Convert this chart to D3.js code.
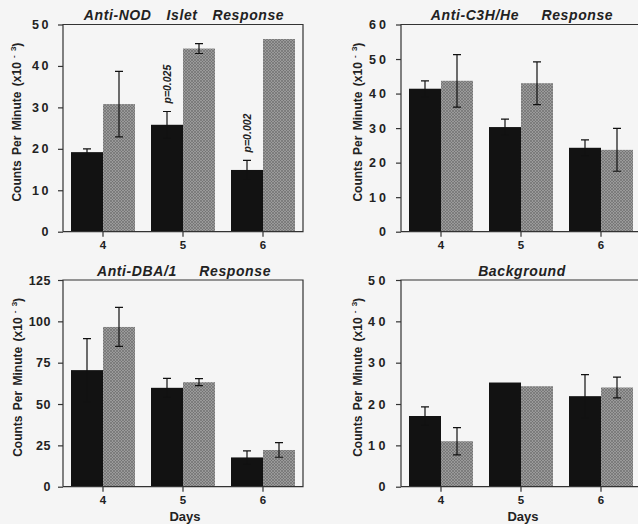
<!DOCTYPE html>
<html><head><meta charset="utf-8">
<script src="https://cdn.jsdelivr.net/npm/d3@7"></script>
<style>
html,body{margin:0;padding:0;background:#f5f5f5;}
svg{display:block;}
text{font-family:"Liberation Sans",Arial,Helvetica,sans-serif;}
</style></head>
<body>
<svg id="chart" width="638" height="524"></svg>
<script>
// ---- data ----
const days = ["4", "5", "6"];
const titles = ["Anti-NOD  Islet  Response", "Anti-C3H/He   Response", "Anti-DBA/1   Response", "Background"];

const nodBlack = [19.2, 25.8, 14.9];
const nodBlackErr = [0.8, 3.2, 2.3];
const nodGray = [30.8, 44.2, 46.5];
const nodGrayErr = [7.9, 1.2, null];
const nodPValues = [null, "p=0.025", "p=0.002"];
const nodTicks = [0, 10, 20, 30, 40, 50];

const c3hBlack = [41.4, 30.3, 24.3];
const c3hBlackErr = [2.3, 2.3, 2.3];
const c3hGray = [43.7, 43.0, 23.7];
const c3hGrayErr = [7.6, 6.2, 6.2];
const c3hTicks = [0, 10, 20, 30, 40, 50, 60];

const dbaBlack = [70.5, 59.8, 17.7];
const dbaBlackErr = [19.1, 5.7, 4.0];
const dbaGray = [96.6, 63.2, 22.2];
const dbaGrayErr = [11.8, 2.1, 4.4];
const dbaTicks = [0, 25, 50, 75, 100, 125];

const bgBlack = [17.1, 25.2, 21.9];
const bgBlackErr = [2.2, null, 5.2];
const bgGray = [11.0, 24.3, 24.0];
const bgGrayErr = [3.3, null, 2.5];
const bgTicks = [0, 10, 20, 30, 40, 50];

const xLabel = "Days";

// ---- drawing ----
const svg = d3.select("#chart");
const defs = svg.append("defs");
const pat = defs.append("pattern").attr("id", "hatch").attr("patternUnits", "userSpaceOnUse")
  .attr("width", 3).attr("height", 3);
pat.append("rect").attr("width", 3).attr("height", 3).attr("fill", "#9a9a9a");
pat.append("path").attr("d", "M0,3 L3,0 M0,0 L3,3").attr("stroke", "#6a6a6a").attr("stroke-width", 0.6);

const panels = [
  {title: titles[0], black: nodBlack, blackErr: nodBlackErr, gray: nodGray, grayErr: nodGrayErr, ticks: nodTicks, p: nodPValues,
   x0: 63, x1: 303, y0: 231.7, y1: 24.5, ls: 2.5, lab: 42, days: false},
  {title: titles[1], black: c3hBlack, blackErr: c3hBlackErr, gray: c3hGray, grayErr: c3hGrayErr, ticks: c3hTicks, p: null,
   x0: 401, x1: 641, y0: 231.7, y1: 24.5, ls: 3, lab: 39.5, days: false},
  {title: titles[2], black: dbaBlack, blackErr: dbaBlackErr, gray: dbaGray, grayErr: dbaGrayErr, ticks: dbaTicks, p: null,
   x0: 63, x1: 303, y0: 486.7, y1: 280, ls: 0.5, lab: 41, days: true},
  {title: titles[3], black: bgBlack, blackErr: bgBlackErr, gray: bgGray, grayErr: bgGrayErr, ticks: bgTicks, p: null,
   x0: 401, x1: 641, y0: 486.7, y1: 280, ls: 3.5, lab: 39.5, days: true}
];

panels.forEach(P => {
  const g = svg.append("g");
  const x = d3.scaleBand().domain(days).range([P.x0, P.x1]).paddingInner(0.2).paddingOuter(0.1);
  const sub = d3.scaleBand().domain(["black", "gray"]).range([0, x.bandwidth()]);
  const y = d3.scaleLinear().domain([0, d3.max(P.ticks)]).range([P.y0, P.y1]);

  const rows = days.map((d, i) => [
    {day: d, s: "black", v: P.black[i], e: P.blackErr[i]},
    {day: d, s: "gray", v: P.gray[i], e: P.grayErr[i]}
  ]).flat();

  // bars
  g.selectAll("rect.bar").data(rows).join("rect")
    .attr("x", d => x(d.day) + sub(d.s))
    .attr("width", sub.bandwidth())
    .attr("y", d => y(d.v))
    .attr("height", d => y(0) - y(d.v))
    .attr("fill", d => d.s === "black" ? "#121212" : "url(#hatch)");

  // error bars
  const eb = rows.filter(d => d.e != null);
  const cx = d => x(d.day) + sub(d.s) + sub.bandwidth() / 2;
  g.selectAll("path.err").data(eb).join("path")
    .attr("d", d => {
      const c = cx(d), t = y(d.v + d.e), b = y(d.v - d.e);
      return `M${c},${b}V${t}M${c - 4},${t}H${c + 4}M${c - 4},${b}H${c + 4}`;
    })
    .attr("stroke", "#111").attr("stroke-width", 1.2).attr("fill", "none");

  // p-values
  if (P.p) {
    P.p.forEach((pv, i) => {
      if (!pv) return;
      const d = rows[i * 2];
      const c = cx(d), t = y(d.v + d.e) - 8;
      g.append("text").attr("transform", `translate(${c + 4},${t}) rotate(-90)`)
        .attr("font-size", 10.5).attr("font-style", "italic").attr("font-weight", "bold")
        .attr("fill", "#222").text(pv);
    });
  }

  // frame
  g.append("path")
    .attr("d", `M${P.x0},${P.y0}V${P.y1}H${P.x1}V${P.y0}H${P.x0}`)
    .attr("fill", "none").attr("stroke", "#333").attr("stroke-width", 1.2);

  // axes
  const ya = g.append("g").attr("transform", `translate(${P.x0},0)`)
    .call(d3.axisLeft(y).tickValues(P.ticks).tickSize(5).tickPadding(7).tickFormat(d3.format("d")));
  ya.select(".domain").remove();
  ya.selectAll("line").attr("stroke", "#333").attr("stroke-width", 1.2);
  ya.selectAll("text").attr("font-size", 12.5).attr("font-weight", "bold").attr("fill", "#222")
    .attr("font-family", "Liberation Sans, Arial, sans-serif")
    .style("letter-spacing", P.ls + "px");

  const xa = g.append("g").attr("transform", `translate(0,${P.y0})`)
    .call(d3.axisBottom(x).tickSize(5).tickPadding(4));
  xa.select(".domain").remove();
  xa.selectAll("line").attr("stroke", "#333").attr("stroke-width", 1.2);
  xa.selectAll("text").attr("font-size", 11.5).attr("font-weight", "bold").attr("fill", "#222")
    .attr("font-family", "Liberation Sans, Arial, sans-serif");

  // title
  g.append("text").attr("x", (P.x0 + P.x1) / 2 + 1).attr("y", P.y1 - 4.5)
    .attr("text-anchor", "middle").attr("font-size", 14).attr("font-weight", "bold")
    .attr("font-style", "italic").attr("fill", "#222")
    .attr("xml:space", "preserve").style("white-space", "pre")
    .style("letter-spacing", "0.6px").style("word-spacing", "3px")
    .text(P.title);

  // y label
  const yl = g.append("text")
    .attr("transform", `translate(${P.x0 - P.lab},${(P.y0 + P.y1) / 2 - 6}) rotate(-90)`)
    .attr("text-anchor", "middle").attr("font-size", 12).attr("font-weight", "bold")
    .attr("fill", "#222").attr("xml:space", "preserve").style("white-space", "pre")
    .style("word-spacing", "2px");
  yl.append("tspan").text("Counts Per Minute (x10");
  yl.append("tspan").attr("font-size", 8).attr("dy", -5).text(" - 3");
  yl.append("tspan").attr("dy", 5).text(")");

  if (P.days) {
    g.append("text").attr("x", (P.x0 + P.x1) / 2 + 2).attr("y", P.y0 + 34.5)
      .attr("text-anchor", "middle").attr("font-size", 13).attr("font-weight", "bold")
      .attr("fill", "#222").text(xLabel);
  }
});
</script>
</body></html>
